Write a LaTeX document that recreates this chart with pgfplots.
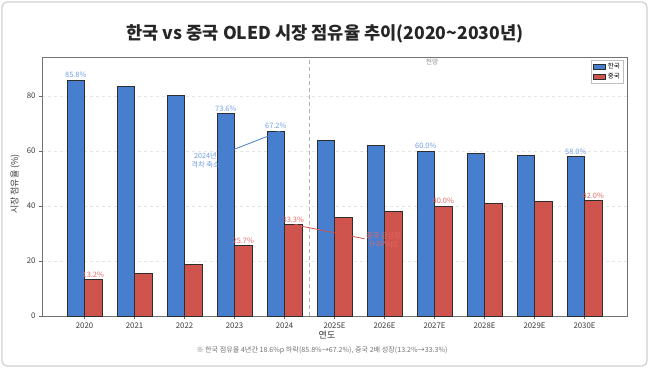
\documentclass[border=0pt]{standalone}
\usepackage{fontspec}
\setmainfont{Noto Sans CJK KR}
\usepackage{pgfplots}
\pgfplotsset{compat=1.18}
\usetikzlibrary{arrows.meta}
\definecolor{kor}{RGB}{72,126,206}
\definecolor{chn}{RGB}{208,84,78}
\definecolor{korlab}{RGB}{110,158,228}
\definecolor{chnlab}{RGB}{230,105,100}
\definecolor{edge}{RGB}{45,45,45}
\definecolor{txt}{RGB}{60,60,60}
\tikzset{
  klab/.style={anchor=south, inner sep=1pt, yshift=1pt, font=\fontsize{7.4}{8}\selectfont, text=korlab},
  clab/.style={anchor=south, inner sep=1pt, yshift=1pt, font=\fontsize{7.4}{8}\selectfont, text=chnlab},
}
\begin{document}
\begin{tikzpicture}[x=1pt,y=1pt]
\path (0,0) rectangle (650,368);
\draw[rounded corners=5pt, draw=black!18, line width=1.2pt, fill=white] (2,2) rectangle (647,366);
\node[font=\bfseries\fontsize{17.6}{20}\selectfont, text=black!85] at (325,334) {한국 vs 중국 OLED 시장 점유율 추이(2020\textasciitilde2030년)};
\begin{axis}[
  at={(42pt,52pt)}, anchor=south west,
  scale only axis, width=585pt, height=259pt,
  xmin=-0.85, xmax=10.85, ymin=0, ymax=94.2,
  xtick={0,...,10},
  xticklabels={2020,2021,2022,2023,2024,2025E,2026E,2027E,2028E,2029E,2030E},
  ytick={0,20,40,60,80},
  /pgf/number format/assume math mode=true,
  ticklabel style={font=\fontsize{7.8}{9}\selectfont, text=txt},
  tick style={draw=black!60},
  major tick length=3pt,
  tick align=outside, xtick pos=bottom, ytick pos=left,
  axis line style={draw=black!55, line width=0.8pt},
  ymajorgrids, grid style={dashed, draw=black!10, line width=0.4pt},
  legend style={at={(0.994,0.99)}, anchor=north east, font=\fontsize{6.5}{7}\selectfont, draw=black!25, inner sep=1.5pt, row sep=-1pt, legend cell align=left},
  legend image code/.code={\draw[#1] (0pt,-2.5pt) rectangle (12pt,2.5pt);},
]
\addplot[ybar, bar width=0.35, bar shift=-0.175, fill=kor, draw=edge, line width=0.9pt] coordinates {
(0,85.8) (1,83.4) (2,80.1) (3,73.6) (4,67.2) (5,64.0) (6,62.0) (7,60.0) (8,59.0) (9,58.5) (10,58.0)};
\addlegendentry{한국}
\addplot[ybar, bar width=0.35, bar shift=0.175, fill=chn, draw=edge, line width=0.9pt] coordinates {
(0,13.2) (1,15.5) (2,18.8) (3,25.7) (4,33.3) (5,36.0) (6,38.0) (7,40.0) (8,41.0) (9,41.5) (10,42.0)};
\addlegendentry{중국}
\draw[dash pattern=on 4pt off 3pt, draw=black!30, line width=0.9pt] (axis cs:4.5,0) -- (axis cs:4.5,94.2);
\node[font=\fontsize{6.8}{7}\selectfont, text=black!45] at (axis cs:6.95,92.4) {전망};
\node[klab] at (axis cs:-0.175,85.8) {85.8\%};
\node[klab] at (axis cs:2.825,73.6) {73.6\%};
\node[klab] at (axis cs:3.825,67.2) {67.2\%};
\node[klab] at (axis cs:6.825,60.0) {60.0\%};
\node[klab] at (axis cs:9.825,58.0) {58.0\%};
\node[clab] at (axis cs:0.175,13.2) {13.2\%};
\node[clab] at (axis cs:3.175,25.7) {25.7\%};
\node[clab] at (axis cs:4.175,33.3) {33.3\%};
\node[clab] at (axis cs:7.175,40.0) {40.0\%};
\node[clab] at (axis cs:10.175,42.0) {42.0\%};
\draw[-{Stealth[length=4pt,width=3pt]}, draw=kor, line width=0.8pt] (axis cs:2.82,59.4) -- (axis cs:3.92,67.2);
\node[align=center, font=\fontsize{7.2}{8.5}\selectfont, text=korlab] at (axis cs:2.42,56.7) {2024년\\격차 축소};
\draw[-{Stealth[length=4pt,width=3pt]}, draw=chn, line width=0.8pt] (axis cs:5.6,28.1) -- (axis cs:4.19,33.2);
\node[align=center, font=\fontsize{7.2}{8.5}\selectfont, text=chnlab] at (axis cs:5.98,27.6) {중국 급성장\\(+20\%p)};
\end{axis}
\node[rotate=90, font=\fontsize{9}{10}\selectfont, text=txt] at (15,184) {시장 점유율 (\%)};
\node[font=\fontsize{9}{10}\selectfont, text=black!80] at (327,33) {연도};
\node[font=\fontsize{7.1}{8}\selectfont, text=black!55] at (322,18) {※ 한국 점유율 4년간 18.6\%p 하락(85.8\%→67.2\%), 중국 2배 성장(13.2\%→33.3\%)};
\end{tikzpicture}
\end{document}
